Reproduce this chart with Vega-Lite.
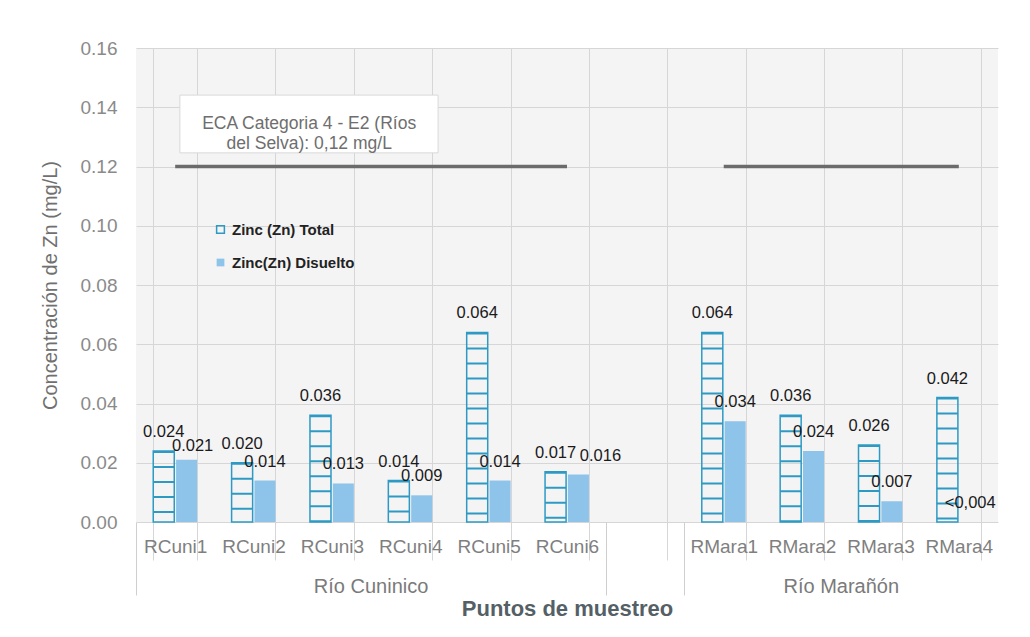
{
  "$schema": "https://vega.github.io/schema/vega-lite/v6.json",
  "width": 862,
  "height": 474,
  "autosize": {"type": "none"},
  "padding": {"left": 136, "top": 48, "right": 32, "bottom": 115},
  "background": "white",
  "config": {
    "font": "Liberation Sans",
    "view": {"fill": "#f4f4f4", "stroke": null}
  },
  "datasets": {
    "zn": [
      {"site": "RCuni1", "serie": "Zinc (Zn) Total", "value": 0.024, "label": "0.024"},
      {"site": "RCuni1", "serie": "Zinc(Zn) Disuelto", "value": 0.021, "label": "0.021"},
      {"site": "RCuni2", "serie": "Zinc (Zn) Total", "value": 0.020, "label": "0.020"},
      {"site": "RCuni2", "serie": "Zinc(Zn) Disuelto", "value": 0.014, "label": "0.014"},
      {"site": "RCuni3", "serie": "Zinc (Zn) Total", "value": 0.036, "label": "0.036"},
      {"site": "RCuni3", "serie": "Zinc(Zn) Disuelto", "value": 0.013, "label": "0.013"},
      {"site": "RCuni4", "serie": "Zinc (Zn) Total", "value": 0.014, "label": "0.014"},
      {"site": "RCuni4", "serie": "Zinc(Zn) Disuelto", "value": 0.009, "label": "0.009"},
      {"site": "RCuni5", "serie": "Zinc (Zn) Total", "value": 0.064, "label": "0.064"},
      {"site": "RCuni5", "serie": "Zinc(Zn) Disuelto", "value": 0.014, "label": "0.014"},
      {"site": "RCuni6", "serie": "Zinc (Zn) Total", "value": 0.017, "label": "0.017"},
      {"site": "RCuni6", "serie": "Zinc(Zn) Disuelto", "value": 0.016, "label": "0.016"},
      {"site": "RMara1", "serie": "Zinc (Zn) Total", "value": 0.064, "label": "0.064"},
      {"site": "RMara1", "serie": "Zinc(Zn) Disuelto", "value": 0.034, "label": "0.034"},
      {"site": "RMara2", "serie": "Zinc (Zn) Total", "value": 0.036, "label": "0.036"},
      {"site": "RMara2", "serie": "Zinc(Zn) Disuelto", "value": 0.024, "label": "0.024"},
      {"site": "RMara3", "serie": "Zinc (Zn) Total", "value": 0.026, "label": "0.026"},
      {"site": "RMara3", "serie": "Zinc(Zn) Disuelto", "value": 0.007, "label": "0.007"},
      {"site": "RMara4", "serie": "Zinc (Zn) Total", "value": 0.042, "label": "0.042"},
      {"site": "RMara4", "serie": "Zinc(Zn) Disuelto", "value": 0, "label": "<0,004"}
    ],
    "eca": [
      {"site": "RCuni1", "tramo": "Cuninico", "value": 0.12},
      {"site": "RCuni6", "tramo": "Cuninico", "value": 0.12},
      {"site": "RMara1", "tramo": "Marañón", "value": 0.12},
      {"site": "RMara4", "tramo": "Marañón", "value": 0.12}
    ],
    "grupos": [
      {"site": "RCuni4", "grupo": "Río Cuninico"},
      {"site": "RMara3", "grupo": "Río Marañón"}
    ],
    "nota": [
      {"site1": "RCuni1", "site2": "RCuni4", "sitec": "RCuni3", "top": 0.1441, "bottom": 0.1246, "mid": 0.1343, "texto": "ECA Categoria 4 - E2 (Ríos|del Selva): 0,12 mg/L"}
    ]
  },
  "layer": [
    {
      "layer": [
        {
          "data": {"name": "zn"},
          "mark": {"type": "bar", "strokeWidth": 1.5},
          "encoding": {
            "x": {
              "field": "site", "type": "nominal", "sort": null, "title": null,
              "scale": {"type": "band", "domain": ["RCuni1", "RCuni2", "RCuni3", "RCuni4", "RCuni5", "RCuni6", " ", "RMara1", "RMara2", "RMara3", "RMara4"], "paddingInner": 0.44, "paddingOuter": 0.22},
              "axis": {"orient": "bottom", "tickBand": "extent", "tickSize": 38, "tickColor": "#d6d6d6", "grid": true, "gridColor": "#d6d6d6", "domain": false, "labelFontSize": 19, "labelColor": "#7f7f7f", "labelPadding": -23, "labelAngle": 0, "title": null}
            },
            "xOffset": {"field": "serie", "type": "nominal", "scale": {"domain": ["Zinc (Zn) Total", "Zinc(Zn) Disuelto"], "paddingInner": 0.08}},
            "y": {
              "field": "value", "type": "quantitative", "title": "Concentración de Zn (mg/L)",
              "scale": {"domain": [0, 0.16], "nice": false},
              "axis": {"values": [0, 0.02, 0.04, 0.06, 0.08, 0.1, 0.12, 0.14, 0.16], "format": ".2f", "grid": true, "gridColor": "#d6d6d6", "domain": false, "ticks": false, "tickSize": 0, "labelPadding": 19, "labelFontSize": 19, "labelColor": "#8a8a8a", "titleFontSize": 20, "titleFontWeight": "normal", "titleColor": "#707070", "titlePadding": 20}
            },
            "fill": {
              "field": "serie", "type": "nominal",
              "scale": {"domain": ["Zinc (Zn) Total", "Zinc(Zn) Disuelto"], "range": ["transparent", "#8ec3ea"]},
              "legend": {"title": null, "orient": "none", "legendX": 77, "legendY": 174, "symbolType": "square", "symbolSize": 60, "symbolStrokeWidth": 1.5, "labelFontSize": 15, "labelFontWeight": "bold", "labelColor": "#222222", "rowPadding": 17, "padding": 0}
            },
            "stroke": {
              "field": "serie", "type": "nominal",
              "scale": {"domain": ["Zinc (Zn) Total", "Zinc(Zn) Disuelto"], "range": ["#2e9ac4", "transparent"]},
              "legend": {"title": null, "orient": "none", "legendX": 77, "legendY": 174, "symbolType": "square", "symbolSize": 60, "symbolStrokeWidth": 1.5, "labelFontSize": 15, "labelFontWeight": "bold", "labelColor": "#222222", "rowPadding": 17, "padding": 0}
            }
          }
        },
        {
          "data": {"name": "zn"},
          "transform": [{"filter": "datum.serie == 'Zinc (Zn) Total'"}],
          "mark": {"type": "rule", "strokeWidth": 21, "strokeDash": [2, 13], "color": "#2e9ac4"},
          "encoding": {
            "x": {"field": "site", "type": "nominal", "title": null},
            "xOffset": {"field": "serie", "type": "nominal"},
            "y": {"field": "value", "type": "quantitative", "title": "Concentración de Zn (mg/L)"},
            "y2": {"datum": 0}
          }
        },
        {
          "data": {"name": "zn"},
          "transform": [{"filter": "!(datum.serie == 'Zinc(Zn) Disuelto' && (datum.site == 'RCuni6' || datum.site == 'RCuni1'))"}],
          "mark": {"type": "text", "baseline": "middle", "dy": -19, "fontSize": 16.5, "color": "#1a1a1a"},
          "encoding": {
            "x": {"field": "site", "type": "nominal", "title": null},
            "xOffset": {"field": "serie", "type": "nominal"},
            "y": {"field": "value", "type": "quantitative", "title": "Concentración de Zn (mg/L)"},
            "text": {"field": "label", "type": "nominal"}
          }
        },
        {
          "data": {"name": "zn"},
          "transform": [{"filter": "datum.site == 'RCuni6' && datum.serie == 'Zinc(Zn) Disuelto'"}],
          "mark": {"type": "text", "baseline": "middle", "dy": -19, "dx": 22, "fontSize": 16.5, "color": "#1a1a1a"},
          "encoding": {
            "x": {"field": "site", "type": "nominal", "title": null},
            "xOffset": {"field": "serie", "type": "nominal"},
            "y": {"field": "value", "type": "quantitative", "title": "Concentración de Zn (mg/L)"},
            "text": {"field": "label", "type": "nominal"}
          }
        },
        {
          "data": {"name": "zn"},
          "transform": [{"filter": "datum.site == 'RCuni1' && datum.serie == 'Zinc(Zn) Disuelto'"}],
          "mark": {"type": "text", "baseline": "middle", "dy": -14, "dx": 6, "fontSize": 16.5, "color": "#1a1a1a"},
          "encoding": {
            "x": {"field": "site", "type": "nominal", "title": null},
            "xOffset": {"field": "serie", "type": "nominal"},
            "y": {"field": "value", "type": "quantitative", "title": "Concentración de Zn (mg/L)"},
            "text": {"field": "label", "type": "nominal"}
          }
        },
        {
          "data": {"name": "eca"},
          "mark": {"type": "line", "color": "#6b6b6b", "strokeWidth": 3.5},
          "encoding": {
            "x": {"field": "site", "type": "nominal", "title": null},
            "y": {"field": "value", "type": "quantitative", "title": "Concentración de Zn (mg/L)"},
            "detail": {"field": "tramo", "type": "nominal"}
          }
        }
      ]
    },
    {
      "layer": [
        {
          "data": {"name": "grupos"},
          "mark": {"type": "text", "baseline": "middle", "dy": 65, "fontSize": 20, "color": "#7a7a7a"},
          "encoding": {
            "x": {
              "field": "site", "type": "nominal", "bandPosition": 0, "title": "Puntos de muestreo",
              "scale": {"type": "band", "domain": ["RCuni1", "RCuni2", "RCuni3", "RCuni4", "RCuni5", "RCuni6", " ", "RMara1", "RMara2", "RMara3", "RMara4"], "paddingInner": 0, "paddingOuter": 0},
              "axis": {"orient": "bottom", "values": ["RCuni1", " ", "RMara1"], "bandPosition": 0, "tickSize": 73, "labels": false, "domain": false, "grid": false, "tickColor": "#cfcfcf", "title": "Puntos de muestreo", "titleFontSize": 22, "titleFontWeight": "bold", "titleColor": "#555f66", "titlePadding": 3}
            },
            "y": {"datum": 0, "type": "quantitative", "title": "Concentración de Zn (mg/L)"},
            "text": {"field": "grupo", "type": "nominal"}
          }
        },
        {
          "data": {"name": "nota"},
          "mark": {"type": "rect", "fill": "white", "stroke": "#d9d9d9", "strokeWidth": 1},
          "encoding": {
            "x": {"field": "site1", "type": "nominal", "bandPosition": 0.56, "title": "Puntos de muestreo"},
            "x2": {"field": "site2", "bandPosition": 0.855},
            "y": {"field": "top", "type": "quantitative", "title": "Concentración de Zn (mg/L)"},
            "y2": {"field": "bottom"}
          }
        },
        {
          "data": {"name": "nota"},
          "mark": {"type": "text", "lineBreak": "|", "baseline": "middle", "align": "center", "fontSize": 17.5, "lineHeight": 20, "color": "#6e6e6e"},
          "encoding": {
            "x": {"field": "sitec", "type": "nominal", "bandPosition": 0.21, "title": "Puntos de muestreo"},
            "y": {"field": "mid", "type": "quantitative", "title": "Concentración de Zn (mg/L)"},
            "text": {"field": "texto", "type": "nominal"}
          }
        }
      ]
    }
  ],
  "resolve": {"scale": {"x": "independent"}, "axis": {"x": "independent"}}
}
